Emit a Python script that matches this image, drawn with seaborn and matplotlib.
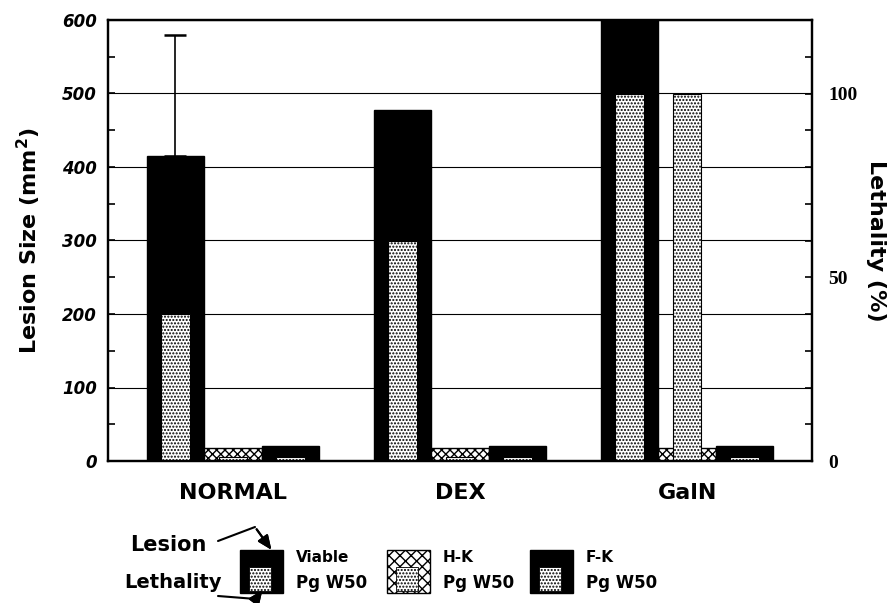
import numpy as np
import pandas as pd
import matplotlib
matplotlib.use("Agg")
import matplotlib.pyplot as plt
import seaborn as sns
from matplotlib.patches import Rectangle
from matplotlib.lines import Line2D

# ---------------- data ----------------
groups = ["NORMAL", "DEX", "GalN"]
strains = ["Viable Pg W50", "H-K Pg W50", "F-K Pg W50"]
lesion_viable = [415, 478, 600]
lesion_hk = [18, 18, 18]
lesion_fk = [20, 20, 20]
lethality_viable = [40, 60, 100]
lethality_hk = [1, 1, 100]
lethality_fk = [1, 1, 1]
lesion_err_normal_viable = 165
left_ticks = [0, 100, 200, 300, 400, 500, 600]
right_ticks = [0, 50, 100]

rows = []
for s, les, let in zip(strains,
                       [lesion_viable, lesion_hk, lesion_fk],
                       [lethality_viable, lethality_hk, lethality_fk]):
    for g, a, b in zip(groups, les, let):
        rows.append({"group": g, "strain": s, "lesion": a, "lethality": b})
df = pd.DataFrame(rows)

# ---------------- figure ----------------
W, H = 891, 603
sns.set_theme(style="white")
plt.rcParams["font.family"] = ["DejaVu Sans"]
plt.rcParams["hatch.linewidth"] = 1.0
for k in ["text.color", "axes.labelcolor", "xtick.color", "ytick.color",
          "axes.edgecolor"]:
    plt.rcParams[k] = "black"
fig = plt.figure(figsize=(W / 100, H / 100), dpi=100)
ax = fig.add_axes([108 / W, 1 - 461 / H, (812 - 108) / W, (461 - 20) / H])

BW = 0.76
sns.barplot(data=df, x="group", y="lesion", hue="strain", order=groups,
            hue_order=strains, palette=["black", "white", "black"],
            width=BW, edgecolor="black", linewidth=1.0, saturation=1,
            errorbar=None, legend=False, ax=ax, zorder=2)
for p in ax.containers[1]:
    p.set_hatch("xxxx")

# error bar on NORMAL / Viable
bar0 = ax.containers[0][0]
xc = bar0.get_x() + bar0.get_width() / 2
ax.errorbar([xc], [lesion_viable[0]], yerr=[[0], [lesion_err_normal_viable]],
            fmt="none", ecolor="black", elinewidth=1.2, capsize=8, capthick=1.8,
            zorder=3)

ax.set_xlim(-0.55, 2.55)
ax.set_ylim(0, 600)
ax.set_yticks(left_ticks)
ax.set_yticks(np.arange(50, 600, 100), minor=True)
ax.set_yticklabels([str(t) for t in left_ticks], fontstyle="italic",
                   fontweight="bold", fontsize=12)
ax.tick_params(axis="y", which="both", direction="in", left=True, length=5,
               width=1.2, pad=8)
ax.tick_params(axis="x", bottom=False, pad=10)
ax.set_xticks(range(len(groups)))
ax.set_xticklabels(groups, fontweight="bold", fontsize=16)
ax.set_xlabel("")
ax.set_ylabel("Lesion Size (mm$^{\\mathbf{2}}$)", fontsize=16,
              fontweight="bold", labelpad=14)
ax.yaxis.grid(True, color="black", linewidth=0.8)
ax.set_axisbelow(True)
for s in ax.spines.values():
    s.set_linewidth(1.6)
    s.set_color("black")

# lethality on secondary axis
ax2 = ax.twinx()
sns.barplot(data=df, x="group", y="lethality", hue="strain", order=groups,
            hue_order=strains, palette=["white", "white", "white"],
            width=BW, gap=0.5, edgecolor="black", linewidth=0.8,
            saturation=1, errorbar=None, legend=False, ax=ax2)
for cont in ax2.containers:
    for p in cont:
        p.set_hatch(".....")
ax2.set_ylim(0, 120)
ax2.set_yticks(right_ticks)
ax2.set_yticks(np.arange(0, 121, 10), minor=True)
ax2.set_yticklabels([str(t) for t in right_ticks], fontweight="bold",
                    fontsize=14, family=["Liberation Serif"])
ax2.tick_params(axis="y", which="both", direction="in", right=True, length=5,
                width=1.2, pad=12)
ax2.set_ylabel("Lethality (%)", fontsize=16, fontweight="bold",
               rotation=270, labelpad=20)
ax2.grid(False)
ax2.set_xlim(-0.55, 2.55)
for s in ax2.spines.values():
    s.set_linewidth(1.6)
    s.set_color("black")

# ---------------- custom legend ----------------
def fx(x):
    return x / W

def fy(y):
    return 1 - y / H

def rect(x0, y0, x1, y1, **kw):
    r = Rectangle((fx(x0), fy(y1)), fx(x1) - fx(x0), fy(y0) - fy(y1),
                  transform=fig.transFigure, **kw)
    fig.add_artist(r)

swatches = [(240, "black", None, "Viable"), (387, "white", "xxx", "H-K"),
            (530, "black", None, "F-K")]
for x0, fc, hatch, lab in swatches:
    rect(x0, 550, x0 + 43, 593, facecolor=fc, edgecolor="black",
         linewidth=1.0, hatch=hatch)
    rect(x0 + 9, 567, x0 + 31, 591, facecolor="white", edgecolor="black",
         linewidth=0.6, hatch=".....")
    fig.text(fx(x0 + 56), fy(557), lab, fontsize=11, fontweight="bold",
             va="center", ha="left")
    fig.text(fx(x0 + 56), fy(583), "Pg W50", fontsize=12, fontweight="bold",
             va="center", ha="left")

fig.text(fx(130), fy(545), "Lesion", fontsize=15, fontweight="bold",
         va="center", ha="left")
fig.text(fx(124), fy(583), "Lethality", fontsize=14, fontweight="bold",
         va="center", ha="left")

fig.add_artist(Line2D([fx(218), fx(255)], [fy(541), fy(527)],
                      transform=fig.transFigure, color="black", lw=1.5))
fig.add_artist(Line2D([fx(218), fx(256)], [fy(596), fy(599)],
                      transform=fig.transFigure, color="black", lw=1.5))
ann_kw = dict(xycoords="figure fraction", textcoords="figure fraction",
              arrowprops=dict(arrowstyle="-|>,head_length=0.7,head_width=0.3",
                              color="black", lw=1.5))
fig.add_artist(plt.annotate("", xy=(fx(273), fy(552)),
                            xytext=(fx(255), fy(527)), **ann_kw))
fig.add_artist(plt.annotate("", xy=(fx(264), fy(588)),
                            xytext=(fx(256), fy(599)), **ann_kw))

fig.savefig("out.png", dpi=100)
